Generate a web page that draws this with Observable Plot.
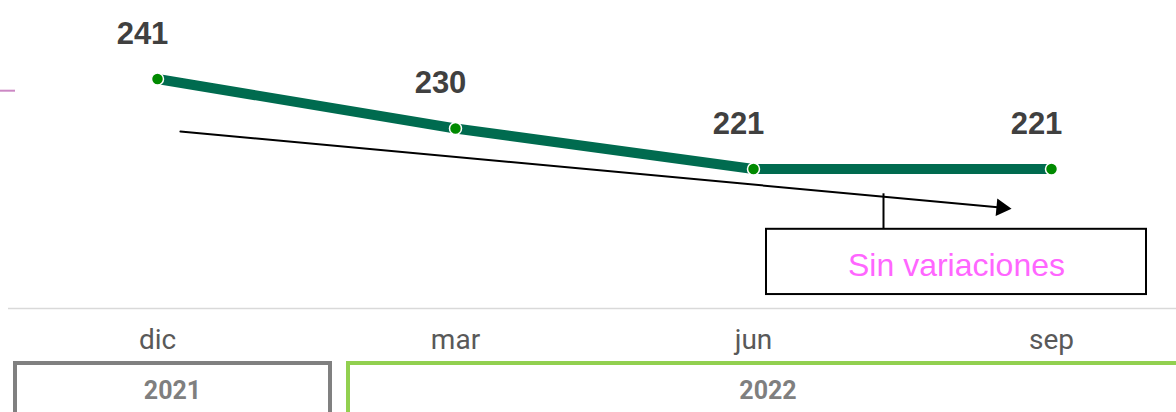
<!DOCTYPE html>
<html>
<head>
<meta charset="utf-8">
<script src="https://cdn.jsdelivr.net/npm/d3@7"></script>
<script src="https://cdn.jsdelivr.net/npm/@observablehq/plot@0.6"></script>
<style>
  html, body { margin: 0; padding: 0; background: #fff; overflow: hidden; }
  #wrap { width: 1176px; height: 412px; position: relative; overflow: hidden; }
  #years { position: relative; width: 1176px; height: 52px; }
  .yr { position: absolute; top: 1px; height: 70px; box-sizing: border-box; border: 4px solid;
        font-family: Roboto, "Liberation Sans", sans-serif; font-weight: bold; font-size: 25px;
        color: #7f7f7f; text-align: center; line-height: 25px; padding-top: 13px; }
</style>
</head>
<body>
<div id="wrap">
  <div id="chart"></div>
  <div id="years"></div>
</div>
<script>
// ---- data ----
const months = ["dic", "mar", "jun", "sep"];
const values = [241, 230, 221, 221];
const years = ["2021", "2022"];
const yearColors = ["#808080", "#92d050"];
const annotationText = "Sin variaciones";

const data = months.map((m, i) => ({month: m, value: values[i]}));

const chart = Plot.plot({
  width: 1176,
  height: 360,
  marginTop: 38,
  marginBottom: 52,
  marginLeft: 0,
  marginRight: 0,
  x: {type: "point", domain: months, padding: 0.473, align: 0.557, label: null},
  y: {domain: [190, 250], axis: null},
  marks: [
    Plot.ruleY([190], {stroke: "#d9d9d9", strokeWidth: 1.5, insetLeft: 8}),
    Plot.ruleY([238.4], {stroke: "#cc88c4", strokeWidth: 2, insetRight: 1161}),
    Plot.axisX({tickSize: 0, tickPadding: 21, fontSize: 28, fill: "#595959",
      fontFamily: "Roboto, 'Liberation Sans', sans-serif"}),
    // trend arrow annotation
    Plot.arrow([0], {x1: () => months[0], x2: () => months[3], y1: () => 229.8, y2: () => 211.4,
      insetStart: 23, insetEnd: 54, headLength: 0, stroke: "black", strokeWidth: 2}),
    Plot.dot([0], {x: () => months[3], y: () => 212.4, dx: -50, symbol: "triangle", r: 6.5,
      rotate: 95.3, fill: "black", stroke: "none"}),
    // callout connector + box
    Plot.link([0], {x1: () => months[2], x2: () => months[2], y1: () => 215.6, y2: () => 207.3,
      dx: 130, stroke: "black", strokeWidth: 2}),
    Plot.rect([0], {x1: () => months[2], x2: () => months[3], y1: () => 193.1, y2: () => 207.6,
      insetLeft: 13, insetRight: -95, fill: "white", stroke: "black", strokeWidth: 2}),
    Plot.text([annotationText], {x: () => months[2], y: () => 199.6, dx: 203, text: d => d,
      fill: "#ff66ff", fontSize: 32, fontFamily: "'Liberation Sans', Arial, sans-serif"}),
    // series
    Plot.line(data, {x: "month", y: "value", stroke: "#006b4f", strokeWidth: 10}),
    Plot.dot(data, {x: "month", y: "value", r: 6, fill: "#008a00", stroke: "white", strokeWidth: 1.5}),
    Plot.text(data, {x: "month", y: "value", text: d => String(d.value), dy: -45, dx: -15,
      fontSize: 31, fontWeight: "bold", fill: "#404040",
      fontFamily: "'Liberation Sans', Arial, sans-serif"})
  ]
});
document.getElementById("chart").appendChild(chart);

// year group boxes under the axis
const yearBoxes = [{left: 13, width: 319}, {left: 346, width: 844}];
const yc = document.getElementById("years");
years.forEach((y, i) => {
  const d = document.createElement("div");
  d.className = "yr";
  d.style.left = yearBoxes[i].left + "px";
  d.style.width = yearBoxes[i].width + "px";
  d.style.borderColor = yearColors[i];
  d.textContent = y;
  yc.appendChild(d);
});
</script>
</body>
</html>
